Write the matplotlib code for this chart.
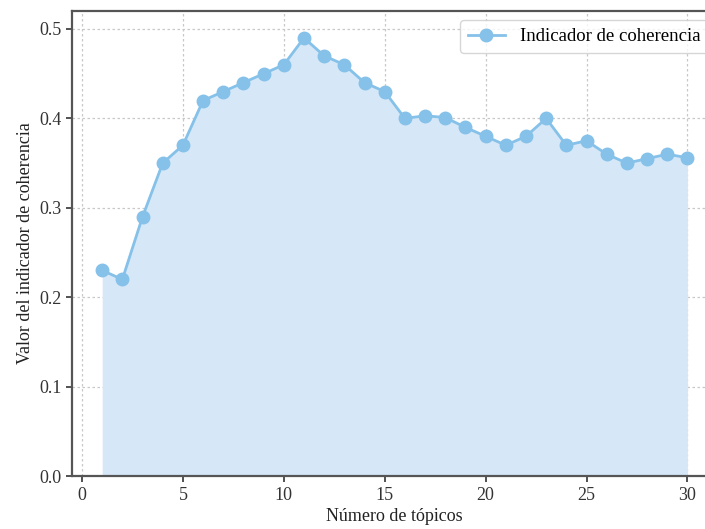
import matplotlib
matplotlib.use("Agg")
from matplotlib import pyplot as plt

# Coherence values per number of topics
topics = list(range(1, 31))
coherence = [0.23, 0.22, 0.29, 0.35, 0.37, 0.42, 0.43, 0.44, 0.45, 0.46,
             0.49, 0.47, 0.46, 0.44, 0.43, 0.40, 0.403, 0.401, 0.39, 0.38,
             0.37, 0.38, 0.40, 0.37, 0.375, 0.36, 0.35, 0.355, 0.36, 0.356]
LINE_COLOR = "#85c1e9"
FILL_COLOR = "#d6e8f7"

plt.rcParams["font.family"] = ["Liberation Serif", "DejaVu Serif"]

fig = plt.figure(figsize=(7.05, 5.29), dpi=100)
ax = fig.add_axes([0.102, 0.10, 0.916, 0.879])

ax.fill_between(topics, coherence, 0, color=FILL_COLOR, linewidth=0)
ax.plot(topics, coherence, color=LINE_COLOR, marker="o", markersize=9,
        linewidth=2, label="Indicador de coherencia")

ax.set_xlim(-0.5, 31.5)
ax.set_ylim(0, 0.52)
ax.set_xticks([0, 5, 10, 15, 20, 25, 30])
ax.set_yticks([0.0, 0.1, 0.2, 0.3, 0.4, 0.5])
ax.yaxis.set_major_formatter(matplotlib.ticker.FormatStrFormatter("%.1f"))

ax.grid(True, linestyle=(0, (2, 2)), color="#c8c8c8", linewidth=0.9)
ax.set_axisbelow(True)
for side in ax.spines.values():
    side.set_color("#555555")
    side.set_linewidth(1.6)
ax.tick_params(axis="both", labelsize=13, colors="#333333", length=4,
               width=1.2)

ax.set_xlabel("Número de tópicos", fontsize=13, color="#222222",
              labelpad=3)
ax.set_ylabel("Valor del indicador de coherencia", fontsize=13,
              color="#222222")

ax.legend(loc="upper right", fontsize=13.5, frameon=True, fancybox=True,
          edgecolor="#cccccc", bbox_to_anchor=(1.0, 1.0))

fig.savefig("out.png", dpi=100)
